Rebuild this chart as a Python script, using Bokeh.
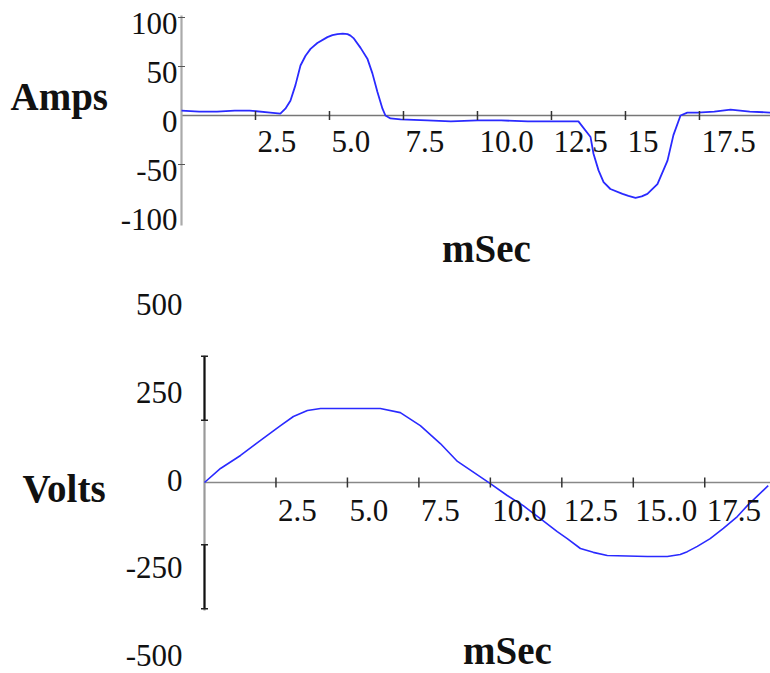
from math import pi
from bokeh.plotting import figure
from bokeh.models import ColumnDataSource, LabelSet, Label, Range1d
from bokeh.layouts import column
from bokeh.embed import file_html
from bokeh.resources import INLINE

# ---------------- data ----------------
amps_time = [0.0, 0.6, 1.2, 1.8, 2.3, 3.0, 3.34, 3.51, 3.68, 3.85, 4.02, 4.19, 4.36,
             4.59, 4.93, 5.1, 5.27, 5.45, 5.61, 5.71, 5.81, 6.05, 6.28, 6.45, 6.62,
             6.79, 6.89, 7.06, 7.4, 8.3, 9.1, 10.0, 10.8, 11.7, 12.5, 13.41, 13.82,
             13.92, 14.09, 14.26, 14.49, 14.9, 15.1, 15.34, 15.55, 15.74, 16.08,
             16.42, 16.62, 16.86, 17.09, 17.43, 18.0, 18.55, 19.2, 19.9]
amps_value = [5, 4, 4, 5, 5, 3, 2, 7, 15, 31, 51, 61, 68,
              74, 80, 82, 83, 83.5, 83, 81.5, 79, 69, 58, 43, 24,
              7, 0, -3, -4, -5, -6, -5, -5, -6, -6, -6, -22,
              -39, -56, -68, -75, -80, -82, -84, -82.5, -80, -70,
              -46, -20, 0, 3, 3, 4, 6, 4, 3]

volts_time = [0.0, 0.56, 1.26, 1.96, 2.66, 3.11, 3.6, 4.06, 5.1, 6.15, 6.85, 7.55,
              8.25, 8.85, 10.0, 10.59, 11.15, 11.75, 12.34, 12.69, 13.15, 13.6,
              14.09, 15.49, 16.19, 16.64, 16.89, 17.24, 17.69, 18.15, 18.64, 18.99,
              19.72]
volts_value = [0, 40, 77, 120, 162, 188, 205, 211, 211, 211, 199, 162,
               111, 60, -3, -37, -66, -103, -140, -160, -188, -199,
               -208, -211, -211, -205, -197, -182, -160, -131, -97, -66,
               -9]

amps_xticks = [2.5, 5.0, 7.5, 10.0, 12.5, 15.0, 17.5]
amps_xlabels = ["2.5", "5.0", "7.5", "10.0", "12.5", "15", "17.5"]
amps_yticks = [100, 50, 0, -50, -100]
amps_ylabels = ["100", "50", "0", "-50", "-100"]
amps_ymarks = [100, 50, -50]

volts_xticks = [2.5, 5.0, 7.5, 10.0, 12.5, 15.0, 17.5]
volts_xlabels = ["2.5", "5.0", "7.5", "10.0", "12.5", "15..0", "17.5"]
volts_yticks = [500, 250, 0, -250, -500]
volts_ylabels = ["500", "250", "0", "-250", "-500"]
volts_ymarks = [360, 177, -177, -360]

# axis extents (drawn axis lines)
amps_axis_x = (0, 19.9)
amps_axis_y = (-112.2, 102.0)
volts_axis_x = (0, 19.8)
volts_axis_y = (-364.7, 361.8)

SERIF = "Liberation Serif"
TICK_FS = "31px"
LAB_FS = "39px"
LINE_COLOR = "#2a2aff"
W = 770


def make_fig(height, origin_x, origin_y, x_end, ppx, ppy):
    """Frame fills the whole canvas; origin_x/origin_y are canvas pixels of data (0,0)."""
    xr = Range1d(-origin_x / ppx, x_end)
    yr = Range1d(-(height - origin_y) / ppy, origin_y / ppy)
    p = figure(width=W, height=height, output_backend="svg", toolbar_location=None,
               x_axis_location=None, y_axis_location=None, x_range=xr, y_range=yr,
               min_border=0, min_border_left=0, min_border_right=0,
               min_border_top=0, min_border_bottom=0)
    p.outline_line_color = None
    p.xgrid.grid_line_color = None
    p.ygrid.grid_line_color = None
    p.background_fill_color = "white"
    p.border_fill_color = "white"
    return p


def text_set(p, xs, ys, labels, xo, yo, align):
    src = ColumnDataSource(dict(x=xs, y=ys, t=labels))
    p.add_layout(LabelSet(x="x", y="y", text="t", source=src, x_offset=xo, y_offset=yo,
                          text_align=align, text_baseline="alphabetic",
                          text_font=SERIF, text_font_size=TICK_FS, text_color="#111111"))


def title_label(p, txt, xo, yo, align):
    p.add_layout(Label(x=0, y=0, x_offset=xo, y_offset=yo, text=txt,
                       text_align=align, text_baseline="alphabetic", text_font=SERIF,
                       text_font_size=LAB_FS, text_font_style="bold", text_color="#111111"))


# ---------------- top: Amps ----------------
H1 = 282
OX1, OY1 = 181, 115
ppx1 = (W - OX1) / amps_axis_x[1]
p1 = make_fig(H1, OX1, OY1, amps_axis_x[1], ppx1, 0.98)
p1.segment(x0=[amps_axis_x[0]], y0=[0], x1=[amps_axis_x[1]], y1=[0],
           line_color="#777777", line_width=1.6)
p1.segment(x0=[0], y0=[amps_axis_y[0]], x1=[0], y1=[amps_axis_y[1]],
           line_color="#aaaaaa", line_width=2.2)
p1.line(amps_time, amps_value, line_color=LINE_COLOR, line_width=1.8)
p1.scatter(amps_xticks, [0] * len(amps_xticks), marker="dash", angle=pi / 2, size=9,
           line_color="#333333", line_width=1.5)
p1.scatter([0] * len(amps_ymarks), amps_ymarks, marker="dash", size=7,
           line_color="#555555", line_width=1.2)
text_set(p1, amps_xticks, [0] * len(amps_xticks), amps_xlabels, 2, -36, "left")
text_set(p1, [0] * len(amps_yticks), amps_yticks, amps_ylabels, -4, -16, "right")
title_label(p1, "Amps", -171, 19, "left")
title_label(p1, "mSec", 305, -133, "center")

# ---------------- bottom: Volts ----------------
H2 = 673 - H1
OX2, OY2 = 204, 482 - H1
ppx2 = (W - OX2) / volts_axis_x[1]
p2 = make_fig(H2, OX2, OY2, volts_axis_x[1], ppx2, 0.351)
p2.segment(x0=[volts_axis_x[0]], y0=[0], x1=[volts_axis_x[1]], y1=[0],
           line_color="#888888", line_width=1.6)
p2.segment(x0=[0], y0=[volts_axis_y[0]], x1=[0], y1=[volts_axis_y[1]],
           line_color="#999999", line_width=2.2)
p2.segment(x0=[0, 0], y0=volts_ymarks[1:3], x1=[0, 0], y1=[volts_ymarks[0], volts_ymarks[3]],
           line_color="#111111", line_width=2)
p2.line(volts_time, volts_value, line_color=LINE_COLOR, line_width=1.6)
p2.scatter(volts_xticks, [0] * len(volts_xticks), marker="dash", angle=pi / 2, size=10,
           line_color="#333333", line_width=1.5)
p2.scatter([0] * len(volts_ymarks), volts_ymarks, marker="dash", size=7,
           line_color="#222222", line_width=1.5)
text_set(p2, volts_xticks, [0] * len(volts_xticks), volts_xlabels, 2, -38, "left")
text_set(p2, [0] * len(volts_yticks), volts_yticks, volts_ylabels, -22, -8, "right")
title_label(p2, "Volts", -182, -6, "left")
title_label(p2, "mSec", 303, -168, "center")

layout = column(p1, p2, spacing=0)
open("out.html", "w").write(file_html(layout, INLINE))
